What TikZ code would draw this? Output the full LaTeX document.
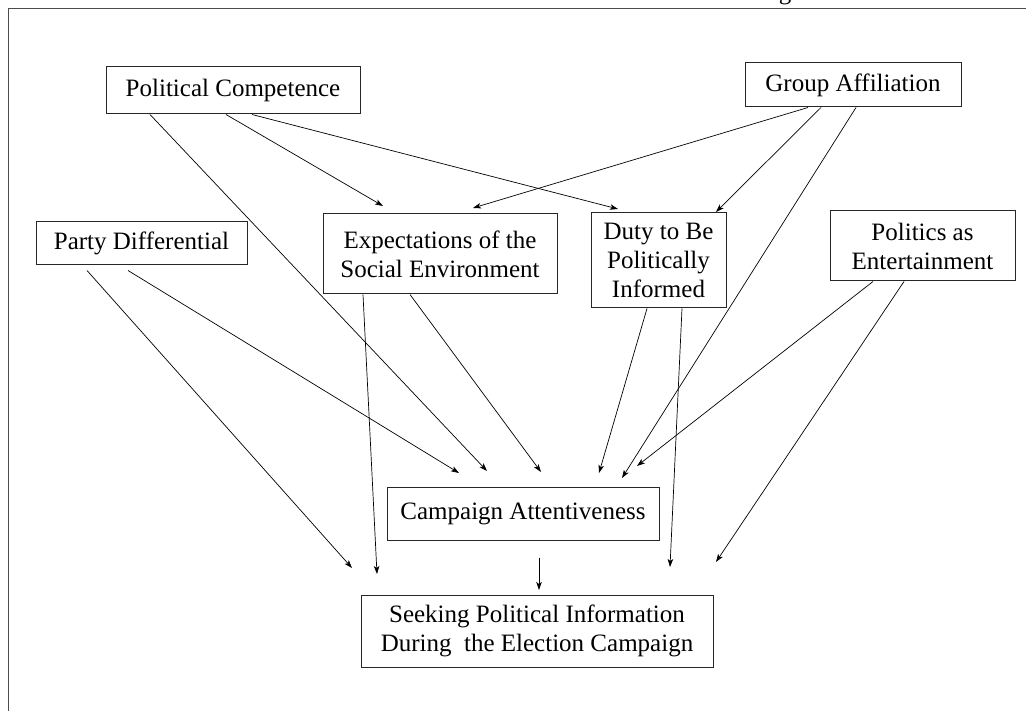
\documentclass[tikz,border=0pt]{standalone}
\usepackage{fontspec}
\setmainfont{Liberation Serif}
\usetikzlibrary{arrows.meta,positioning}

\begin{document}
\begin{tikzpicture}[
    x=1pt, y=-1pt,
    >={Stealth[length=8pt,width=5.5pt,inset=2pt]},
    % Styles
    factor/.style 2 args={
        rectangle, draw=black!85, line width=1pt,
        fill=white, text=black,
        minimum width=#1, minimum height=#2,
        font=\fontsize{25}{29}\selectfont,
        align=center, inner sep=2pt
    },
    conn/.style={->, line width=0.7pt},
    frame/.style={draw=black!70, line width=1.3pt}
]
\useasboundingbox (0,0) rectangle (1026,711);

% ── FRAME ──
\draw[frame] (8.5,8.5) rectangle (1040,725);
\node[anchor=base, inner sep=0pt, font=\fontsize{25}{29}\selectfont] (ttl) at (785,-0.5) {g};

% ── UPPER ROW ──
\node[factor={254pt}{47pt}] (pc) at (233,90.5) {Political Competence};
\node[factor={216pt}{44pt}] (ga) at (853,85) {Group Affiliation};

% ── MIDDLE ROW ──
\node[factor={211pt}{43pt}] (pd) at (141.5,243.5) {Party Differential};
\node[factor={234pt}{80pt}] (expect) at (440,254) {Expectations of the\\Social Environment};
\node[factor={135pt}{95pt}] (duty) at (658.5,260.5) {Duty to Be\\Politically\\Informed};
\node[factor={185pt}{70pt}] (enter) at (922.5,246) {Politics as\\Entertainment};

% ── LOWER ROW ──
\node[factor={272pt}{53pt}] (attent) at (523,513.5) {Campaign Attentiveness};
\node[factor={352pt}{72pt}] (seek) at (537,631) {Seeking Political Information\\During\ \ the Election Campaign};

% free arrow ends
\coordinate (pc2att) at (487,471);
\coordinate (pc2exp) at (383,206);
\coordinate (pc2duty) at (618,209);
\coordinate (ga2exp) at (473,208);
\coordinate (ga2duty) at (716,212);
\coordinate (ga2att) at (622,478);
\coordinate (exp2seek) at (377,574);
\coordinate (exp2att) at (541,472);
\coordinate (pd2seek) at (352,568);
\coordinate (pd2att) at (459,473);
\coordinate (duty2att) at (599,473);
\coordinate (duty2seek) at (670,567);
\coordinate (ent2att) at (637,466);
\coordinate (ent2seek) at (716,562);
\coordinate (att2seek) at (539,590);

% ── CONNECTORS ──
\draw[conn] ([xshift=-83pt]pc.south) -- (pc2att);
\draw[conn] ([xshift=-7pt]pc.south) -- (pc2exp);
\draw[conn] ([xshift=19pt]pc.south) -- (pc2duty);

\draw[conn] ([xshift=-45pt]ga.south) -- (ga2exp);
\draw[conn] ([xshift=-32pt]ga.south) -- (ga2duty);
\draw[conn] ([xshift=3pt]ga.south) -- (ga2att);

\draw[conn] ([xshift=-54.5pt,yshift=-5pt]pd.south) -- (pd2seek);
\draw[conn] ([xshift=-13.5pt,yshift=-5pt]pd.south) -- (pd2att);

\draw[conn] ([xshift=-77pt]expect.south) -- (exp2seek);
\draw[conn] ([xshift=-30pt]expect.south) -- (exp2att);

\draw[conn] ([xshift=-11.5pt]duty.south) -- (duty2att);
\draw[conn] ([xshift=23.5pt]duty.south) -- (duty2seek);

\draw[conn] ([xshift=-49.5pt]enter.south) -- (ent2att);
\draw[conn] ([xshift=-18.5pt]enter.south) -- (ent2seek);

\draw[conn] ([xshift=16pt,yshift=-17pt]attent.south) -- (att2seek);

\end{tikzpicture}
\end{document}
